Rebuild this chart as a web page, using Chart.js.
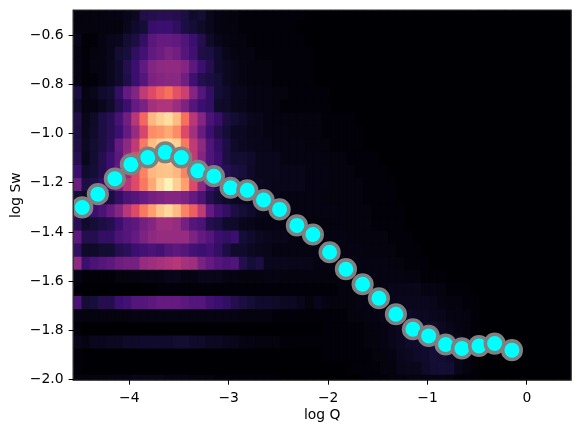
<!DOCTYPE html>
<html><head><meta charset="utf-8">
<style>html,body{margin:0;padding:0;background:#fff}canvas{display:block}</style>
<script src="https://cdn.jsdelivr.net/npm/chart.js@4"></script>
</head><body><canvas id="c" width="579" height="433"></canvas>
<script>
const xTicks=[-4,-3,-2,-1,0];
const yTicks=[-2.0,-1.8,-1.6,-1.4,-1.2,-1.0,-0.8,-0.6];
const xLabel='log Q', yLabel='log Sw';
const logQ=[-4.473,-4.316,-4.145,-3.984,-3.813,-3.638,-3.477,-3.310,-3.149,-2.981,-2.813,-2.649,-2.488,-2.314,-2.153,-1.985,-1.821,-1.653,-1.489,-1.318,-1.147,-0.989,-0.818,-0.654,-0.483,-0.325,-0.151];
const logSw=[-1.300,-1.246,-1.183,-1.125,-1.097,-1.076,-1.097,-1.151,-1.173,-1.220,-1.230,-1.270,-1.308,-1.373,-1.410,-1.482,-1.551,-1.612,-1.669,-1.734,-1.795,-1.822,-1.857,-1.873,-1.863,-1.853,-1.880];
// bin centres of the density image
const qBins=[-4.518,-4.435,-4.352,-4.268,-4.185,-4.102,-4.018,-3.935,-3.852,-3.768,-3.685,-3.602,-3.518,-3.435,-3.352,-3.268,-3.185,-3.102,-3.018,-2.935,-2.852,-2.768,-2.685,-2.602,-2.518,-2.435,-2.352,-2.268,-2.185,-2.102,-2.018,-1.935,-1.852,-1.768,-1.685,-1.602,-1.518,-1.435,-1.352,-1.268,-1.185,-1.102,-1.018,-0.935,-0.852,-0.768,-0.685,-0.602,-0.518,-0.435,-0.352,-0.268,-0.185,-0.102,-0.018,0.065,0.148,0.232,0.315,0.398];
const swBins=[-0.5120,-0.5653,-0.6187,-0.6720,-0.7253,-0.7787,-0.8320,-0.8853,-0.9387,-0.9920,-1.0453,-1.0987,-1.1520,-1.2053,-1.2587,-1.3120,-1.3653,-1.4187,-1.4720,-1.5253,-1.5787,-1.6320,-1.6853,-1.7387,-1.7920,-1.8453,-1.8987,-1.9520,-2.0053];
const swBinHeight=0.0533;
const heat00=[2,2,2,2,3,3,4,6,13,14, 15,15,14,12,8,10,5,3,2,2, 1,1,1,1,1,1,1,1,0,0, 0,0,0,0,0,0,0,0,0,0, 0,0,0,0,0,0,0,0,0,0, 0,0,0,0,0,0,0,0,0,0];
const heat01=[2,2,2,2,2,2,5,8,10,19, 20,20,17,12,10,7,5,3,2,2, 1,1,1,1,1,1,1,0,0,0, 0,0,0,0,0,0,0,0,0,0, 0,0,0,0,0,0,0,0,0,0, 0,0,0,0,0,0,0,0,0,0];
const heat02=[4,1,1,3,4,5,9,12,18,27, 30,30,29,25,20,14,7,4,3,2, 2,1,1,1,1,1,1,1,0,0, 0,0,0,0,0,0,0,0,0,0, 0,0,0,0,0,0,0,0,0,0, 0,0,0,0,0,0,0,0,0,0];
const heat03=[3,1,2,3,4,9,11,17,22,29, 32,36,33,26,21,13,12,8,4,3, 2,2,1,1,1,1,1,1,1,0, 0,0,0,0,0,0,0,0,0,0, 0,0,0,0,0,0,0,0,0,0, 0,0,0,0,0,0,0,0,0,0];
const heat04=[3,1,3,3,5,8,14,20,29,37, 40,41,41,38,28,20,14,8,6,4, 3,2,2,2,1,1,1,1,1,0, 0,0,0,0,0,0,0,0,0,0, 0,0,0,0,0,0,0,0,0,0, 0,0,0,0,0,0,0,0,0,0];
const heat05=[3,1,1,3,5,8,13,20,26,36, 38,39,39,33,21,14,12,10,6,4, 3,2,2,2,1,1,1,1,1,0, 0,0,0,0,0,0,0,0,0,0, 0,0,0,0,0,0,0,0,0,0, 0,0,0,0,0,0,0,0,0,0];
const heat06=[12,3,4,8,9,18,30,37,52,60, 66,70,62,55,38,26,18,10,8,5, 5,3,3,3,2,2,1,1,1,1, 1,0,0,0,0,0,0,0,0,0, 0,0,0,0,0,0,0,0,0,0, 0,0,0,0,0,0,0,0,0,0];
const heat07=[8,3,3,5,8,14,20,30,35,45, 48,48,43,36,26,20,18,8,7,5, 4,3,3,3,2,1,1,1,1,1, 1,0,0,0,0,0,0,0,0,0, 0,0,0,0,0,0,0,0,0,0, 0,0,0,0,0,0,0,0,0,0];
const heat08=[13,4,7,12,15,23,33,50,68,85, 90,93,86,70,50,38,24,19,12,9, 7,5,4,3,2,2,2,2,2,2, 1,1,1,1,0,0,0,0,0,0, 0,0,0,0,0,0,0,0,0,0, 0,0,0,0,0,0,0,0,0,0];
const heat09=[12,5,8,12,15,20,30,42,58,76, 78,82,76,60,45,31,20,14,10,6, 6,4,4,3,3,3,2,2,2,2, 1,1,1,1,1,0,0,0,0,0, 0,0,0,0,0,0,0,0,0,0, 0,0,0,0,0,0,0,0,0,0];
const heat10=[13,6,9,12,16,30,40,52,72,86, 90,92,90,72,52,40,25,18,12,7, 6,5,4,4,3,3,3,3,2,2, 2,1,1,1,1,0,0,0,0,0, 0,0,0,0,0,0,0,0,0,0, 0,0,0,0,0,0,0,0,0,0];
const heat11=[15,5,9,14,20,28,42,60,72,85, 88,90,86,72,52,38,25,20,12,9, 9,8,5,5,5,3,3,3,3,3, 2,2,2,1,1,1,1,0,0,0, 0,0,0,0,0,0,0,0,0,0, 0,0,0,0,0,0,0,0,0,0];
const heat12=[20,8,10,14,20,30,42,60,74,85, 87,88,85,74,55,38,24,17,15,12, 11,7,5,5,5,4,4,4,3,3, 3,2,2,2,1,1,1,1,0,0, 0,0,0,0,0,0,0,0,0,0, 0,0,0,0,0,0,0,0,0,0];
const heat13=[32,12,13,18,24,36,50,60,72,82, 92,98,90,80,60,40,22,14,10,8, 7,6,6,5,4,4,4,4,3,3, 3,2,2,2,2,1,1,1,1,0, 0,0,0,0,0,0,0,0,0,0, 0,0,0,0,0,0,0,0,0,0];
const heat14=[10,7,8,10,12,18,24,26,30,34, 36,38,38,36,30,24,14,10,7,6, 5,5,4,4,4,3,3,3,3,3, 2,2,2,2,2,1,1,1,1,0, 0,0,0,0,0,0,0,0,0,0, 0,0,0,0,0,0,0,0,0,0];
const heat15=[28,18,20,24,30,38,50,60,72,80, 88,92,86,74,66,52,30,22,18,12, 10,8,5,4,4,4,3,3,3,3, 3,3,2,2,2,2,1,1,1,1, 0,0,0,0,0,0,0,0,0,0, 0,0,0,0,0,0,0,0,0,0];
const heat16=[15,8,10,12,14,20,26,28,34,38, 44,44,42,34,26,24,14,12,8,7, 5,4,3,3,3,3,3,2,2,2, 2,2,2,2,2,2,1,1,1,1, 0,0,0,0,0,0,0,0,0,0, 0,0,0,0,0,0,0,0,0,0];
const heat17=[28,14,14,18,18,24,26,30,36,40, 42,42,42,42,36,30,26,20,18,20, 10,8,6,5,4,4,3,3,3,3, 3,3,3,2,2,2,2,2,1,1, 1,0,0,0,0,0,0,0,0,0, 0,0,0,0,0,0,0,0,0,0];
const heat18=[18,7,7,9,9,14,16,20,22,24, 22,26,28,26,22,20,22,18,12,8, 8,6,5,4,3,3,3,3,3,3, 3,3,3,3,3,2,2,2,2,1, 1,1,0,0,0,0,0,0,0,0, 0,0,0,0,0,0,0,0,0,0];
const heat19=[40,20,24,26,28,32,34,34,42,44, 46,48,50,46,44,35,30,26,24,25, 14,10,12,5,5,5,4,4,4,3, 3,3,3,3,3,3,3,3,2,2, 1,1,1,0,0,0,0,0,0,0, 0,0,0,0,0,0,0,0,0,0];
const heat20=[3,1,1,1,1,2,2,2,3,3, 3,4,4,3,3,4,4,4,3,3, 2,2,2,3,3,2,2,2,2,2, 2,2,2,3,3,3,3,3,3,3, 2,2,1,1,1,0,0,0,0,0, 0,0,0,0,0,0,0,0,0,0];
const heat21=[1,0,0,0,0,0,0,0,0,0, 1,1,1,1,1,1,1,1,1,1, 1,1,1,1,1,1,1,1,1,1, 1,1,2,2,2,3,3,3,4,4, 4,4,3,3,2,1,1,1,0,0, 0,0,0,0,0,0,0,0,0,0];
const heat22=[24,10,11,14,14,20,22,26,26,28, 30,30,30,28,26,26,22,20,18,14, 12,10,8,8,7,6,6,4,2,4, 3,2,2,2,3,3,3,4,4,5, 5,5,5,4,3,2,2,1,1,0, 0,0,0,0,0,0,0,0,0,0];
const heat23=[3,2,2,2,2,2,2,3,3,3, 3,3,3,3,3,3,3,3,3,3, 2,2,2,2,1,1,1,1,1,1, 1,1,1,2,2,3,3,4,5,6, 7,6,6,5,4,3,3,2,1,0, 0,0,0,0,0,0,0,0,0,0];
const heat24=[1,0,0,0,0,0,0,0,0,0, 0,0,0,0,0,0,0,0,0,0, 0,0,0,0,0,0,0,0,0,0, 1,1,1,1,1,2,2,3,4,6, 7,7,8,8,6,4,3,2,1,0, 0,0,0,0,0,0,0,0,0,0];
const heat25=[4,3,5,5,6,6,7,7,8,8, 8,8,9,9,8,7,6,6,5,4, 3,3,2,2,2,1,1,1,1,1, 1,1,1,1,1,2,2,3,4,6, 7,8,9,10,8,7,6,3,1,0, 0,0,0,0,0,0,0,0,0,0];
const heat26=[1,0,0,0,0,0,0,0,0,0, 0,0,0,0,0,0,0,0,0,0, 0,0,0,0,0,0,0,0,0,0, 1,1,1,1,1,1,2,2,3,5, 6,7,8,10,9,7,5,3,1,0, 0,0,0,0,0,0,0,0,0,0];
const heat27=[1,0,0,0,0,0,0,0,0,0, 0,0,0,0,0,0,0,0,0,0, 0,0,0,0,0,0,0,0,0,0, 0,0,0,1,1,1,1,2,2,4, 5,5,7,9,10,9,4,2,1,0, 0,0,0,0,0,0,0,0,0,0];
const heat28=[2,2,2,2,3,3,3,4,4,4, 4,3,3,3,2,2,2,1,1,1, 1,1,1,1,1,0,0,0,0,0, 0,0,0,0,0,1,1,1,2,2, 3,3,3,3,3,2,1,1,1,0, 0,0,0,0,0,0,0,0,0,0];
const heatRows=[heat00,heat01,heat02,heat03,heat04,heat05,heat06,heat07,heat08,heat09,heat10,heat11,heat12,heat13,heat14,heat15,heat16,heat17,heat18,heat19,heat20,heat21,heat22,heat23,heat24,heat25,heat26,heat27,heat28];

const magma=[[0,0,4],[20,14,54],[59,15,112],[100,26,128],[140,41,129],[183,55,121],[222,73,104],[247,112,92],[254,159,109],[254,207,146],[252,253,191]];
function cmap(v){const t=Math.max(0,Math.min(1,v/100))*10,i=Math.min(9,Math.floor(t)),f=t-i,a=magma[i],b=magma[i+1];
  return `rgb(${a.map((c,k)=>Math.round(c+(b[k]-c)*f)).join(',')})`;}

const datasets=[{type:'scatter',order:0,data:logQ.map((x,i)=>({x,y:logSw[i]})),showLine:false,pointRadius:9.3,pointHoverRadius:9.3,pointBorderWidth:3.6,pointBorderColor:'#808080',pointBackgroundColor:'#00ffff'}];
heatRows.forEach((row,r)=>{
  datasets.push({type:'bar',order:1,grouped:false,barPercentage:1,categoryPercentage:1,borderWidth:0,inflateAmount:0.4,borderSkipped:false,
    data:row.map((v,c)=>({x:qBins[c],y:[swBins[r]-swBinHeight/2,swBins[r]+swBinHeight/2]})),
    backgroundColor:row.map(cmap)});
});
const frame={id:'frame',beforeDatasetsDraw(ch){const a=ch.chartArea,c=ch.ctx;c.save();c.fillStyle='#000004';c.fillRect(a.left,a.top,a.width,a.height);c.restore();},
 afterDatasetsDraw(ch){const a=ch.chartArea,c=ch.ctx;c.save();c.strokeStyle='#000';c.lineWidth=1;c.strokeRect(a.left-0.5,a.top-0.5,a.width+1,a.height+1);c.restore();}};
const font={family:'"DejaVu Sans"',size:13.9};
const zeroPad=s=>{s.paddingLeft=s.paddingRight=s.paddingTop=s.paddingBottom=0;};
new Chart(document.getElementById('c'),{
 type:'bar',
 data:{datasets},
 plugins:[frame],
 options:{responsive:false,animation:false,devicePixelRatio:1,
  layout:{autoPadding:false,padding:{top:10.6,right:8.3,left:0,bottom:0}},
  plugins:{legend:{display:false},tooltip:{enabled:false}},
  scales:{
   x:{type:'linear',min:-4.56,max:0.44,offset:false,
    afterBuildTicks:s=>{s.ticks=xTicks.map(value=>({value}));},
    afterFit:s=>{s.height=53.3;zeroPad(s);},
    grid:{display:true,offset:false,drawOnChartArea:false,drawTicks:true,tickLength:5,tickColor:'#000',tickWidth:1},
    border:{display:false},
    ticks:{color:'#000',font,padding:5,maxRotation:0,autoSkip:false,callback:v=>String(v).replace('-','\u2212')},
    title:{display:true,text:xLabel,color:'#000',font,padding:{top:0,bottom:9}}},
   y:{type:'linear',min:-2,max:-0.5,
    afterBuildTicks:s=>{s.ticks=yTicks.map(value=>({value}));},
    afterFit:s=>{s.width=73.6;zeroPad(s);},
    grid:{display:true,drawOnChartArea:false,drawTicks:true,tickLength:5,tickColor:'#000',tickWidth:1},
    border:{display:false},
    ticks:{color:'#000',font,padding:5,autoSkip:false,callback:v=>Number(v).toFixed(1).replace('-','\u2212')},
    title:{display:true,text:yLabel,color:'#000',font,padding:{top:8.5,bottom:0}}}
  }
 }
});
</script></body></html>
